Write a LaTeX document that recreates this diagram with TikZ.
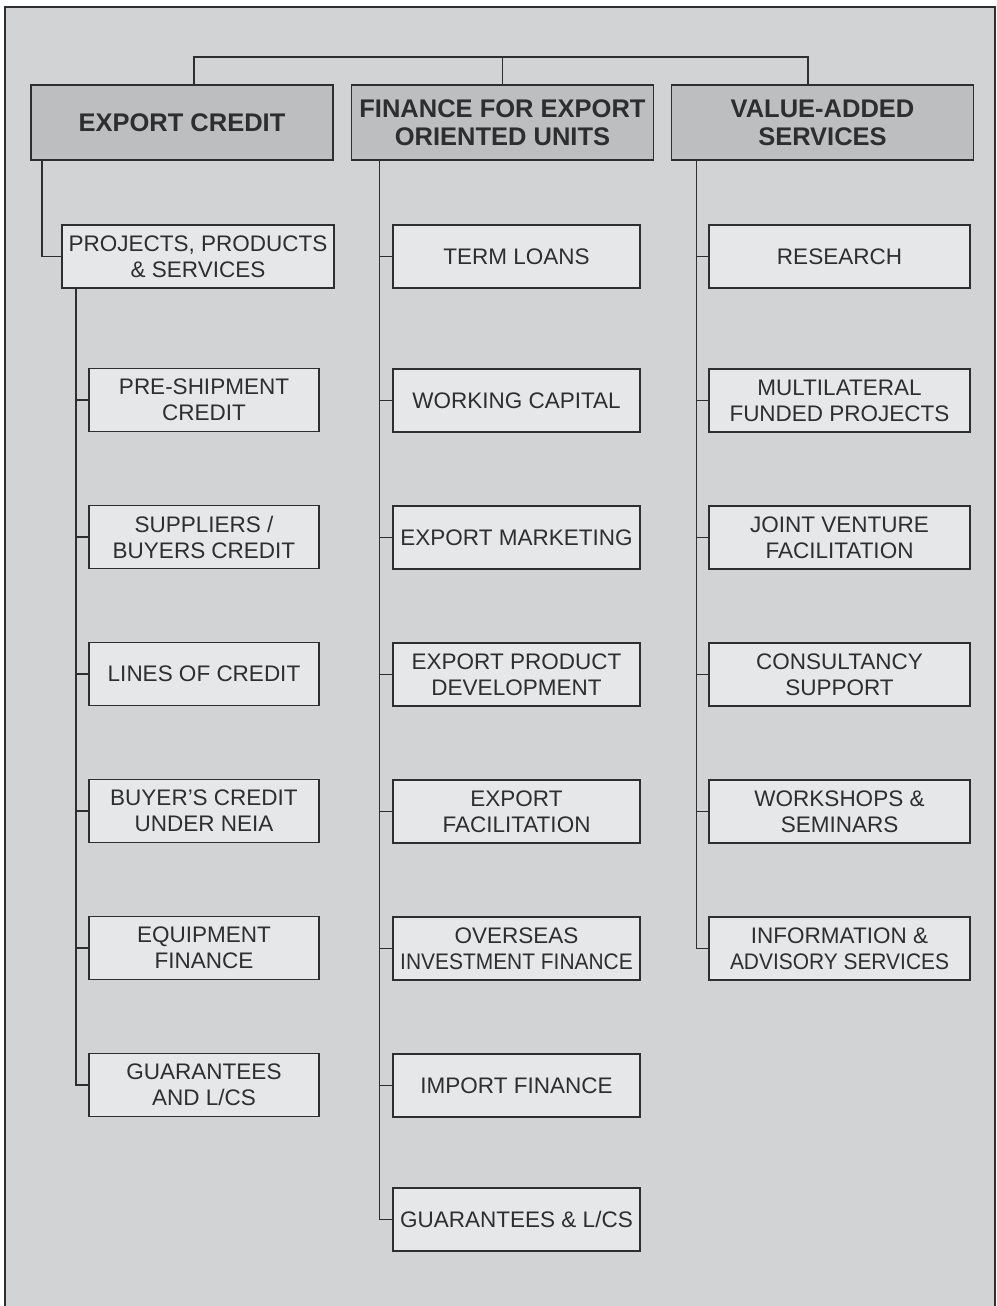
\documentclass[tikz,border=0pt]{standalone}
\usepackage{fontspec}
\setmainfont{Liberation Sans}
\usetikzlibrary{positioning}

\definecolor{panel}{HTML}{D1D3D4}
\definecolor{headfill}{HTML}{BCBEC0}
\definecolor{itemfill}{HTML}{E6E7E8}
\definecolor{ink}{HTML}{2E2E2E}

% squeeze a long line a little
\newcommand{\squeezed}[1]{\scalebox{0.93}[1]{#1}}

\begin{document}
\begin{tikzpicture}[x=1pt, y=-1pt,
                head/.style={rectangle, draw=ink, fill=headfill, line width=1.5pt, inner sep=0pt,
                             outer sep=0pt, minimum width=302pt, minimum height=75pt, align=center,
                             text=ink, font=\fontsize{25.5}{28}\selectfont\bfseries},
                item/.style={rectangle, draw=ink, fill=itemfill, line width=1.5pt, inner sep=0pt,
                             outer sep=0pt, minimum height=63pt, align=center, text=ink,
                             font=\fontsize{22.5}{26}\selectfont},
                lft/.style={item, minimum width=230pt},
                mid/.style={item, minimum width=247pt},
                rgt/.style={item, minimum width=261pt},
                link/.style={draw=ink, line width=1.5pt},
            ]
            \useasboundingbox (0,0) rectangle (996,1306);
            \fill[panel] (5,7) rectangle (995,1306);
            \draw[link] (5,1306) -- (5,7) -- (995,7) -- (995,1306);

            % headings
            \node[head] (ec) at (182,122.5) {EXPORT CREDIT};
            \node[head] (fin) at (502.5,122.5) {FINANCE FOR EXPORT\\ORIENTED UNITS};
            \node[head] (vas) at (822.5,122.5) {VALUE-ADDED\\SERVICES};

            % export credit
            \node[item, minimum width=272pt] (pps) at (198,256.5) {PROJECTS, PRODUCTS\\\& SERVICES};
            \node[lft] (l1) at (204,400) {PRE-SHIPMENT\\CREDIT};
            \node[lft, below=74pt of l1] (l2) {SUPPLIERS /\\BUYERS CREDIT};
            \node[lft, below=74pt of l2] (l3) {LINES OF CREDIT};
            \node[lft, below=74pt of l3] (l4) {BUYER'S CREDIT\\UNDER NEIA};
            \node[lft, below=74pt of l4] (l5) {EQUIPMENT\\FINANCE};
            \node[lft, below=74pt of l5] (l6) {GUARANTEES\\AND L/CS};

            % finance for EOUs
            \node[mid] (m1) at (516.5,256.5) {TERM LOANS};
            \node[mid, below=81pt of m1] (m2) {WORKING CAPITAL};
            \node[mid, below=74pt of m2] (m3) {EXPORT MARKETING};
            \node[mid, below=74pt of m3] (m4) {EXPORT PRODUCT\\DEVELOPMENT};
            \node[mid, below=74pt of m4] (m5) {EXPORT\\FACILITATION};
            \node[mid, below=74pt of m5] (m6) {OVERSEAS\\\squeezed{INVESTMENT FINANCE}};
            \node[mid, below=74pt of m6] (m7) {IMPORT FINANCE};
            \node[mid, below=71pt of m7] (m8) {GUARANTEES \& L/CS};

            % value-added services
            \node[rgt] (r1) at (839.5,256.5) {RESEARCH};
            \node[rgt, below=81pt of r1] (r2) {MULTILATERAL\\FUNDED PROJECTS};
            \node[rgt, below=74pt of r2] (r3) {JOINT VENTURE\\FACILITATION};
            \node[rgt, below=74pt of r3] (r4) {CONSULTANCY\\SUPPORT};
            \node[rgt, below=74pt of r4] (r5) {WORKSHOPS \&\\SEMINARS};
            \node[rgt, below=74pt of r5] (r6) {INFORMATION \&\\\squeezed{ADVISORY SERVICES}};

            % top bus
            \coordinate (bus) at (502,57);
            \path[link] ([xshift=12pt]ec.north) |- (bus) -| ([xshift=-14.5pt]vas.north);
            \path[link] (fin.north) -- (fin.north |- bus);

            % spines
            \coordinate (lspine) at ([xshift=14pt]pps.south west);
            \coordinate (mspine) at ([xshift=28pt]fin.south west);
            \coordinate (rspine) at ([xshift=25pt]vas.south west);
            \path[link] ([xshift=11pt]ec.south west) |- (pps.west);
            \path[link] (lspine) |- (l1.west) (lspine) |- (l2.west) (lspine) |- (l3.west)
                        (lspine) |- (l4.west) (lspine) |- (l5.west) (lspine) |- (l6.west);
            \path[link] (mspine) |- (m1.west) (mspine) |- (m2.west) (mspine) |- (m3.west)
                        (mspine) |- (m4.west) (mspine) |- (m5.west) (mspine) |- (m6.west)
                        (mspine) |- (m7.west) (mspine) |- (m8.west);
            \path[link] (rspine) |- (r1.west) (rspine) |- (r2.west) (rspine) |- (r3.west)
                        (rspine) |- (r4.west) (rspine) |- (r5.west) (rspine) |- (r6.west);
\end{tikzpicture}
\end{document}
